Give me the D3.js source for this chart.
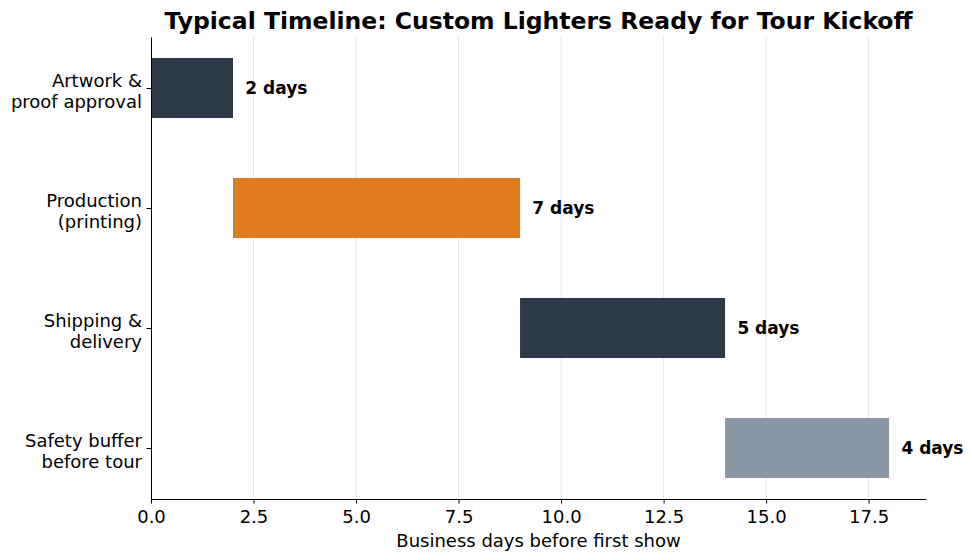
<!DOCTYPE html>
<html>
<head>
<meta charset="utf-8">
<script src="https://cdn.jsdelivr.net/npm/d3@7"></script>
<style>
  body { margin: 0; background: #fff; }
  svg { font-family: "DejaVu Sans", sans-serif; }
</style>
</head>
<body>
<svg id="chart" width="972" height="560"></svg>
<script>
const stages = [
  ['Artwork &', 'proof approval'],
  ['Production', '(printing)'],
  ['Shipping &', 'delivery'],
  ['Safety buffer', 'before tour']
];
const starts = [0, 2, 9, 14];
const durations = [2, 7, 5, 4];
const colors = ['#2e3a47', '#e07b1f', '#2e3a47', '#8a97a6'];
const xTicks = [0, 2.5, 5, 7.5, 10, 12.5, 15, 17.5];

const width = 972, height = 560;
const margin = {top: 37, right: 46, bottom: 61, left: 151};
const w = width - margin.left - margin.right;
const h = height - margin.top - margin.bottom;

const svg = d3.select('#chart');
const main = svg.append('g').attr('transform', `translate(${margin.left},${margin.top})`);

const dataset = stages.map((s, i) => ({label: s, start: starts[i], dur: durations[i], color: colors[i], idx: i}));

// x: 0 .. max end + 5% margin
const maxEnd = d3.max(dataset, d => d.start + d.dur);
const xScale = d3.scaleLinear().domain([0, maxEnd * 1.05]).range([0, w]);
// y: bar height 0.5, 5% margin
const yScale = d3.scaleLinear().domain([-0.425, 3.425]).range([0, h]);
const barH = 0.5;

// grid
main.append('g')
  .selectAll('line')
  .data(xTicks)
  .join('line')
  .attr('x1', d => xScale(d)).attr('x2', d => xScale(d))
  .attr('y1', 0).attr('y2', h)
  .attr('stroke', '#dcdfe3')
  .attr('stroke-width', 0.8);

// bars
main.selectAll('rect.bar')
  .data(dataset)
  .join('rect')
  .attr('class', 'bar')
  .attr('x', d => xScale(d.start))
  .attr('y', d => yScale(d.idx - barH / 2))
  .attr('width', d => xScale(d.start + d.dur) - xScale(d.start))
  .attr('height', d => yScale(barH) - yScale(0))
  .attr('fill', d => d.color);

// bar labels
main.selectAll('text.lbl')
  .data(dataset)
  .join('text')
  .attr('class', 'lbl')
  .attr('x', d => xScale(d.start + d.dur + 0.3))
  .attr('y', d => yScale(d.idx))
  .attr('dy', '0.35em')
  .attr('font-size', 17)
  .attr('font-weight', 'bold')
  .text(d => `${d.dur} days`);

// x axis
const xAxis = main.append('g')
  .attr('transform', `translate(0,${h})`)
  .call(d3.axisBottom(xScale).tickValues(xTicks).tickFormat(d3.format('.1f')).tickSize(4.5).tickSizeOuter(0));
xAxis.select('.domain').attr('stroke', '#000').attr('stroke-width', 1);
xAxis.selectAll('.tick line').attr('stroke', '#000');
xAxis.selectAll('text').attr('font-size', 18).attr('fill', '#000').attr('y', 11).attr('font-family', '"DejaVu Sans", sans-serif');

// y axis
const yAxis = main.append('g')
  .call(d3.axisLeft(yScale).tickValues(dataset.map(d => d.idx)).tickFormat('').tickSize(4.5).tickSizeOuter(0));
yAxis.select('.domain').attr('stroke', '#000').attr('stroke-width', 1);
yAxis.selectAll('.tick line').attr('stroke', '#000');

const yl = main.append('g').selectAll('text')
  .data(dataset)
  .join('text')
  .attr('x', -9)
  .attr('y', d => yScale(d.idx))
  .attr('text-anchor', 'end')
  .attr('font-size', 18)
  .attr('fill', '#000');
yl.append('tspan').attr('x', -9).attr('dy', -1).text(d => d.label[0]);
yl.append('tspan').attr('x', -9).attr('dy', 21).text(d => d.label[1]);

// axis label
main.append('text')
  .attr('x', w / 2)
  .attr('y', h + 48)
  .attr('text-anchor', 'middle')
  .attr('font-size', 18)
  .text('Business days before first show');

// title
svg.append('text')
  .attr('x', margin.left + w / 2)
  .attr('y', 29)
  .attr('text-anchor', 'middle')
  .attr('font-size', 23.5)
  .attr('font-weight', 'bold')
  .text('Typical Timeline: Custom Lighters Ready for Tour Kickoff');
</script>
</body>
</html>
